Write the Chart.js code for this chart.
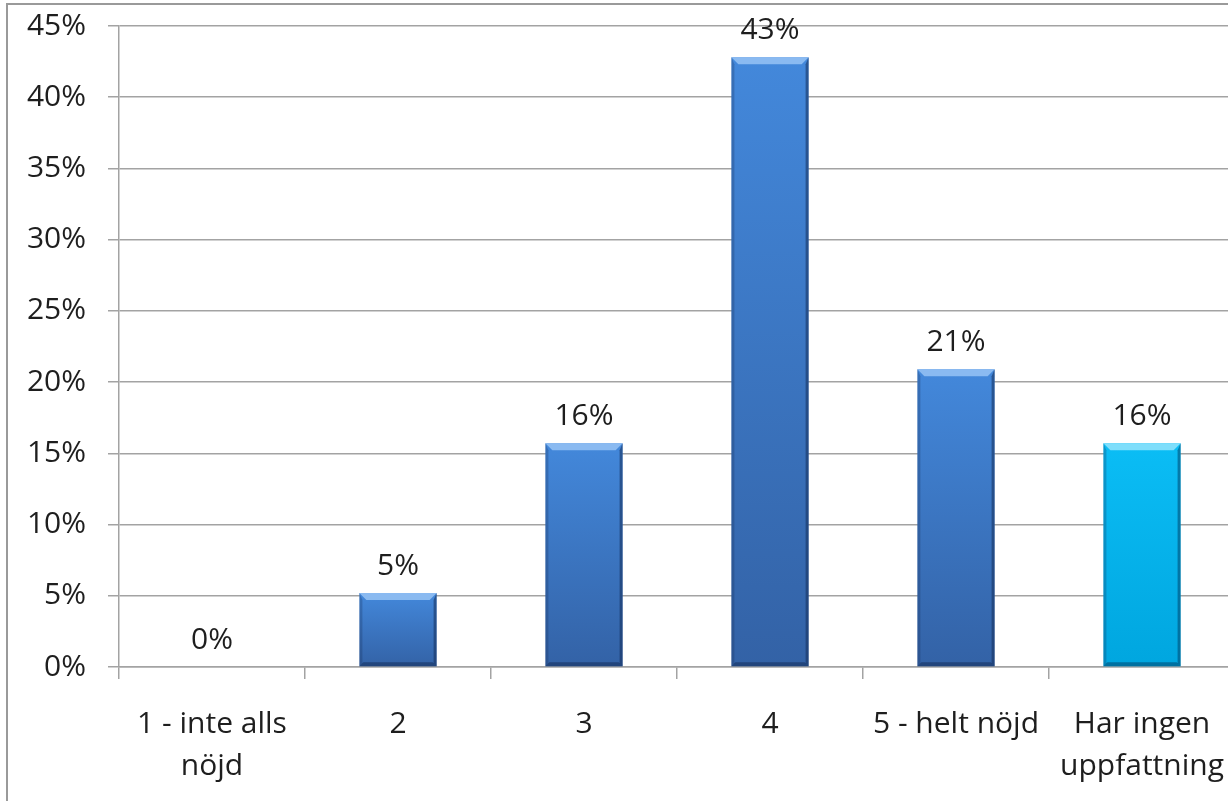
<!DOCTYPE html>
<html>
<head>
<meta charset="utf-8">
<script src="https://cdn.jsdelivr.net/npm/chart.js@4"></script>
<style>
  html, body { margin: 0; padding: 0; background: #fff; overflow: hidden; }
  #wrap { position: absolute; left: 0; top: 0; width: 1260px; height: 840px; }
</style>
</head>
<body>
<div id="wrap"><canvas id="diagram" width="1260" height="840"></canvas></div>
<script>
// Data
var kategorier = [['1 - inte alls', 'nöjd'], '2', '3', '4', '5 - helt nöjd', ['Har ingen', 'uppfattning']];
var andelar = [0, 5.2, 15.7, 42.8, 20.9, 15.7];
var staplarFarg = ['blue', 'blue', 'blue', 'blue', 'blue', 'cyan'];
var yMax = 45;
var ySteg = 5;

var fargSkalor = {
    blue: { top: '#4388db', bottom: '#3362a6', light: 'rgba(150,195,245,0.85)', dark: 'rgba(20,45,90,0.55)' },
    cyan: { top: '#0bbdf5', bottom: '#00a6df', light: 'rgba(140,225,252,0.9)', dark: 'rgba(0,70,110,0.55)' }
};

var typsnitt = '"Open Sans", "Noto Sans", sans-serif';
var textStorlek = 30;
var textFarg = '#1e1e1e';
var linjeFarg = '#a3a3a3';

// ram runt diagrammet
var ramPlugin = {
    id: 'ram',
    beforeDraw: function(chart) {
        var c = chart.ctx;
        c.save();
        c.fillStyle = '#fff';
        c.fillRect(0, 0, chart.width, chart.height);
        c.strokeStyle = '#9a9a9a';
        c.lineWidth = 2;
        c.strokeRect(7, 4, 1400, 1000);
        c.restore();
    }
};

// fasning på staplarna + etiketter
var stapelPlugin = {
    id: 'staplar',
    afterDatasetsDraw: function(chart) {
        var c = chart.ctx;
        var meta = chart.getDatasetMeta(0);
        c.save();
        meta.data.forEach(function(bar, i) {
            var p = bar.getProps(['x', 'y', 'base', 'width'], true);
            var l = p.x - p.width / 2, r = p.x + p.width / 2;
            var t = p.y, b = p.base;
            var s = fargSkalor[staplarFarg[i]];
            if (b - t > 2) {
                var bev = Math.min(7, (b - t) / 3);
                // topp-highlight
                c.fillStyle = s.light;
                c.beginPath();
                c.moveTo(l, t); c.lineTo(r, t); c.lineTo(r - bev, t + bev); c.lineTo(l + bev, t + bev);
                c.closePath(); c.fill();
                // höger kant mörk
                c.fillStyle = s.dark;
                c.beginPath();
                c.moveTo(r, t); c.lineTo(r, b); c.lineTo(r - 3, b - 3); c.lineTo(r - 3, t + bev);
                c.closePath(); c.fill();
                // vänster kant lite mörk
                c.fillStyle = 'rgba(20,40,80,0.25)';
                c.beginPath();
                c.moveTo(l, t); c.lineTo(l + 3, t + bev); c.lineTo(l + 3, b - 3); c.lineTo(l, b);
                c.closePath(); c.fill();
                // botten mörk
                c.fillStyle = s.dark;
                c.beginPath();
                c.moveTo(l, b); c.lineTo(r, b); c.lineTo(r - 4, b - 4); c.lineTo(l + 4, b - 4);
                c.closePath(); c.fill();
            }
            // etikett
            c.fillStyle = textFarg;
            c.font = textStorlek + 'px ' + typsnitt;
            c.textAlign = 'center';
            c.textBaseline = 'alphabetic';
            c.fillText(Math.round(andelar[i]) + '%', p.x, t - 18);
        });
        c.restore();
    }
};

var ctx = document.getElementById('diagram').getContext('2d');
new Chart(ctx, {
    type: 'bar',
    data: {
        labels: kategorier,
        datasets: [{
            data: andelar,
            barPercentage: 0.415,
            categoryPercentage: 1,
            borderWidth: 0,
            backgroundColor: function(context) {
                var chart = context.chart;
                var s = fargSkalor[staplarFarg[context.dataIndex]];
                var ys = chart.scales.y;
                if (!chart.chartArea || !ys) return s.top;
                var y0 = ys.getPixelForValue(andelar[context.dataIndex]);
                var y1 = ys.getPixelForValue(0);
                if (!isFinite(y0) || !isFinite(y1) || y1 - y0 < 1) return s.top;
                var g = chart.ctx.createLinearGradient(0, y0, 0, y1);
                g.addColorStop(0, s.top);
                g.addColorStop(1, s.bottom);
                return g;
            }
        }]
    },
    options: {
        responsive: false,
        animation: false,
        devicePixelRatio: 1,
        layout: { padding: { top: 26, right: 25, left: 0, bottom: 0 } },
        plugins: {
            legend: { display: false },
            tooltip: { enabled: false }
        },
        scales: {
            x: {
                afterFit: function(scale) {
                    scale.height = 173;
                    scale.paddingLeft = 0;
                    scale.paddingRight = 0;
                },
                grid: {
                    offset: true,
                    drawOnChartArea: false,
                    drawTicks: true,
                    tickLength: 12,
                    color: linjeFarg,
                    lineWidth: 1.5
                },
                border: { color: linjeFarg, width: 1.5 },
                ticks: {
                    color: textFarg,
                    font: { family: typsnitt, size: textStorlek, lineHeight: 1.4 },
                    padding: 24,
                    maxRotation: 0,
                    autoSkip: false
                }
            },
            y: {
                min: 0,
                max: yMax,
                afterFit: function(scale) {
                    scale.width = 119;
                    scale.paddingTop = 0;
                    scale.paddingBottom = 0;
                },
                grid: {
                    color: linjeFarg,
                    lineWidth: 1.5,
                    tickLength: 11
                },
                border: { color: linjeFarg, width: 1.5 },
                ticks: {
                    stepSize: ySteg,
                    color: textFarg,
                    padding: 22,
                    font: { family: typsnitt, size: textStorlek },
                    callback: function(v) { return v + '%'; }
                }
            }
        }
    },
    plugins: [ramPlugin, stapelPlugin]
});
</script>
</body>
</html>
